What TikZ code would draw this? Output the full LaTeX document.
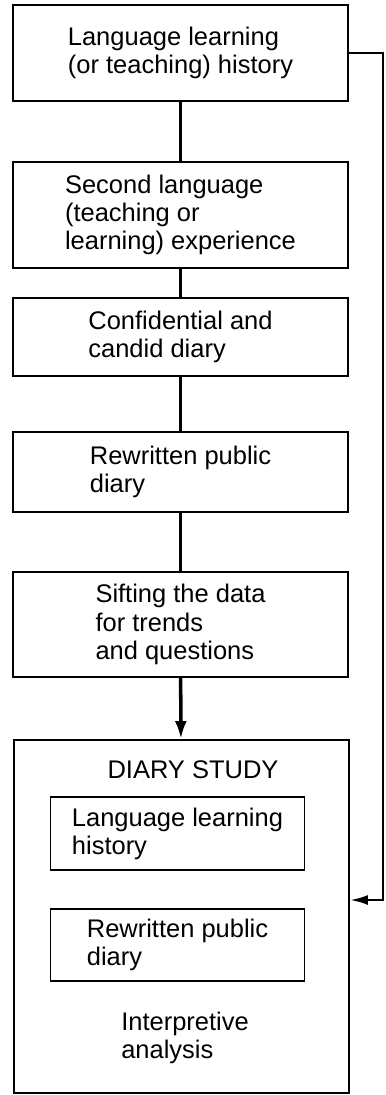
\documentclass[tikz,border=0pt]{standalone}
\usepackage{fontspec}
\setmainfont{Liberation Sans}
\usetikzlibrary{arrows.meta}
\begin{document}
\begin{tikzpicture}[
    box/.style={draw, line width=1.1pt, align=left, minimum width=6.7cm, inner sep=0pt,
        font=\fontsize{14.5}{16}\selectfont},
    inbox/.style={box, minimum width=5.08cm, minimum height=1.45cm},
    label/.style={align=left, inner sep=0pt, font=\fontsize{14.5}{16}\selectfont},
    link/.style={line width=2pt},
    feed/.style={line width=1.4pt}]
        \useasboundingbox (0,0) rectangle (7.72,-21.9);
        \node[box, minimum height=1.92cm] (hist) at (3.61,-1.06) {Language learning\\(or teaching) history};
        \node[box, minimum height=2.12cm] (exp) at (3.61,-4.30) {Second language\\(teaching or\\learning) experience};
        \node[box, minimum height=1.56cm] (conf) at (3.61,-6.74) {Confidential and\\candid diary};
        \node[box, minimum height=1.60cm] (pub) at (3.61,-9.44) {Rewritten public\\diary};
        \node[box, minimum height=2.10cm] (sift) at (3.61,-12.49) {Sifting the data\\for trends\\and questions};
        \node[box, minimum height=7.06cm] (study) at (3.63,-18.33) {};
        \node[label] (title) at (3.86,-15.40) {DIARY STUDY};
        \node[inbox] (inhist) at (3.55,-16.67) {Language learning\\history};
        \node[inbox] (inpub) at (3.55,-18.90) {Rewritten public\\diary};
        \node[label] (interp) at (3.70,-20.76) {Interpretive\\analysis};
        \draw[link] (hist) -- (exp);
        \draw[link] (exp) -- (conf);
        \draw[link] (conf) -- (pub);
        \draw[link] (pub) -- (sift);
        \draw[link, -{Latex[length=3.6mm, width=2.4mm]}] (sift) -- (study);
        \coordinate (fb) at (7.66,-18.0);
        \draw[feed, -{Latex[length=3.6mm, width=2mm]}] (hist.east) -| (fb) -- (fb -| study.east);
\end{tikzpicture}
\end{document}
